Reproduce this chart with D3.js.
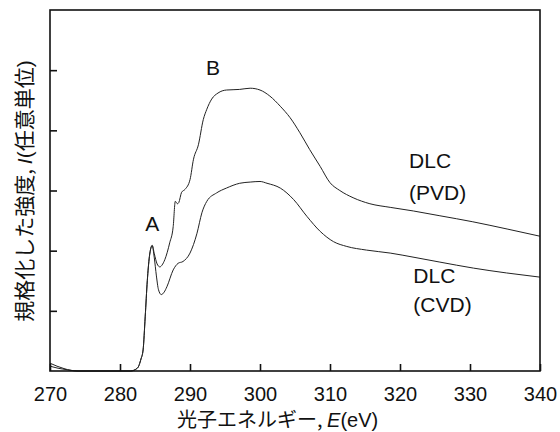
<!DOCTYPE html>
<html>
<head>
<meta charset="utf-8">
<script src="https://d3js.org/d3.v7.min.js"></script>
<style>
  body { margin: 0; background: #fff; }
  text { font-family: "Liberation Sans", Arial, "Noto Sans CJK JP", sans-serif; }
</style>
</head>
<body>
<svg width="560" height="432"></svg>
<script>
// photon energy (eV) and normalized intensity
var energyPVD = [270, 271, 272, 273, 274, 281.5, 282.5, 283.0, 283.3, 283.6, 283.9, 284.2, 284.6, 284.9, 285.3, 285.7, 286.0, 286.4, 287.1, 287.6, 287.9, 288.2, 288.4, 288.8, 289.3, 290.0, 290.5, 291.2, 291.9, 292.4, 293.1, 294.0, 295.2, 297.1, 298.6, 300.0, 301.4, 302.9, 304.3, 305.7, 307.1, 308.6, 310.0, 311.4, 313.3, 315.7, 318.6, 321.9, 325.7, 330.4, 335.3, 340];
var intensityPVD = [0.13, 0.08, 0.04, 0.01, 0, 0, 0.05, 0.2, 0.35, 0.9, 1.5, 1.9, 2.09, 1.95, 1.78, 1.73, 1.76, 1.85, 2.13, 2.4, 2.82, 2.78, 2.8, 2.97, 3.02, 3.18, 3.52, 3.76, 4.18, 4.35, 4.52, 4.62, 4.67, 4.68, 4.7, 4.67, 4.57, 4.4, 4.21, 3.96, 3.68, 3.4, 3.13, 3.0, 2.88, 2.78, 2.72, 2.66, 2.58, 2.48, 2.36, 2.24];

var energyCVD = [270, 271, 272.5, 274, 281.5, 282.5, 283.0, 283.3, 283.6, 283.9, 284.2, 284.6, 284.9, 285.2, 285.5, 285.9, 286.3, 286.7, 287.6, 288.3, 289.0, 290.0, 291.0, 291.7, 292.4, 293.8, 295.2, 297.1, 298.6, 300.0, 301.0, 302.9, 304.8, 306.7, 308.6, 310.5, 312.4, 315.2, 318.6, 322.0, 325.7, 330.5, 335.2, 340];
var intensityCVD = [0.08, 0.05, 0.02, 0, 0, 0.05, 0.2, 0.35, 0.9, 1.5, 1.9, 2.08, 1.88, 1.58, 1.35, 1.27, 1.31, 1.4, 1.68, 1.79, 1.82, 1.96, 2.29, 2.63, 2.82, 2.96, 3.04, 3.12, 3.14, 3.15, 3.12, 3.04, 2.85, 2.57, 2.32, 2.15, 2.07, 2.01, 1.96, 1.89, 1.81, 1.71, 1.63, 1.56];

var xTicks = [270, 280, 290, 300, 310, 320, 330, 340];
var yTicks = [1, 2, 3, 4, 5];

var mLeft = 50, mRight = 540, mTop = 10, mBottom = 371;
var svg = d3.select("svg");

var x = d3.scaleLinear().domain([270, 340]).range([mLeft, mRight]);
var y = d3.scaleLinear().domain([0, 6]).range([mBottom, mTop]);

// curves
var line = d3.line()
  .x(function(d) { return x(d[0]); })
  .y(function(d) { return y(d[1]); })
  .curve(d3.curveMonotoneX);

function pairs(xs, ys) {
  return xs.map(function(v, i) { return [v, ys[i]]; });
}

[pairs(energyPVD, intensityPVD), pairs(energyCVD, intensityCVD)].forEach(function(s) {
  svg.append("path")
    .attr("d", line(s))
    .attr("fill", "none")
    .attr("stroke", "#222")
    .attr("stroke-width", 1);
});

// frame
svg.append("rect")
  .attr("x", mLeft).attr("y", mTop)
  .attr("width", mRight - mLeft).attr("height", mBottom - mTop)
  .attr("fill", "none").attr("stroke", "#111").attr("stroke-width", 1.6);

// axes with inward ticks
var xAxis = svg.append("g")
  .attr("transform", "translate(0," + mBottom + ")")
  .call(d3.axisBottom(x).tickValues(xTicks).tickSizeInner(-7).tickSizeOuter(0).tickPadding(16));
xAxis.select(".domain").remove();
xAxis.selectAll(".tick line").attr("stroke", "#111").attr("stroke-width", 1.6);
xAxis.selectAll(".tick text")
  .attr("font-size", "20px").attr("fill", "#111")
  .attr("font-family", "'Liberation Sans', Arial, sans-serif");

var yAxis = svg.append("g")
  .attr("transform", "translate(" + mLeft + ",0)")
  .call(d3.axisLeft(y).tickValues(yTicks).tickSizeInner(-7).tickSizeOuter(0).tickFormat(""));
yAxis.select(".domain").remove();
yAxis.selectAll(".tick line").attr("stroke", "#111").attr("stroke-width", 1.6);

// axis titles
var xt = svg.append("text")
  .attr("x", 177).attr("y", 427)
  .attr("font-size", "20px").attr("fill", "#111");
xt.append("tspan").attr("font-family", "'Noto Sans CJK JP', sans-serif").text("光子エネルギー, ");
xt.append("tspan").attr("font-style", "italic").text("E");
xt.append("tspan").text("(eV)");

var yt = svg.append("text")
  .attr("transform", "translate(32,191) rotate(-90)")
  .attr("text-anchor", "middle")
  .attr("font-size", "21px").attr("fill", "#111");
yt.append("tspan").attr("font-family", "'Noto Sans CJK JP', sans-serif").text("規格化した強度, ");
yt.append("tspan").attr("font-style", "italic").text("I");
yt.append("tspan").text("(");
yt.append("tspan").attr("font-family", "'Noto Sans CJK JP', sans-serif").text("任意単位");
yt.append("tspan").text(")");

// annotations
var notes = [
  { t: "A", e: 284.6, v: 2.32, a: "middle" },
  { t: "B", e: 293.3, v: 4.92, a: "middle" },
  { t: "DLC", e: 321.3, v: 3.37, a: "start" },
  { t: "(PVD)", e: 321.3, v: 2.85, a: "start" },
  { t: "DLC", e: 321.9, v: 1.47, a: "start" },
  { t: "(CVD)", e: 321.9, v: 0.98, a: "start" }
];
svg.selectAll(".note")
  .data(notes)
  .enter().append("text")
  .attr("class", "note")
  .attr("x", function(d) { return x(d.e); })
  .attr("y", function(d) { return y(d.v); })
  .attr("text-anchor", function(d) { return d.a; })
  .attr("font-size", "21px").attr("fill", "#111")
  .text(function(d) { return d.t; });
</script>
</body>
</html>
